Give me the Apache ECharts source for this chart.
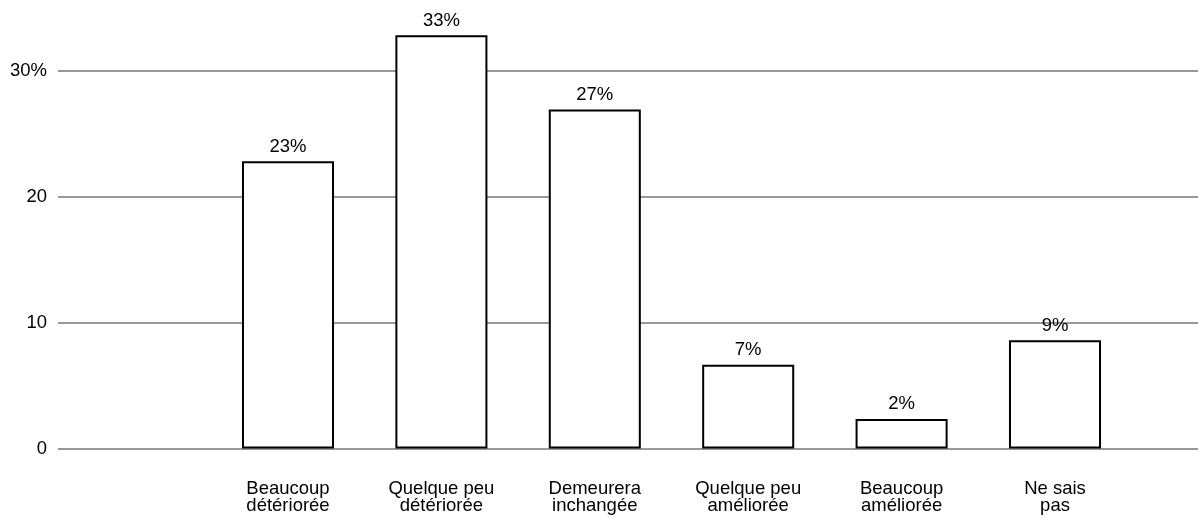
<!DOCTYPE html>
<html>
<head>
<meta charset="utf-8">
<script src="https://cdn.jsdelivr.net/npm/echarts@6/dist/echarts.min.js"></script>
<style>html,body{margin:0;padding:0;background:#fff}#c{width:1198px;height:518px}</style>
</head>
<body>
<div id="c"></div>
<script>
const categories = ['', 'Beaucoup\ndétériorée', 'Quelque peu\ndétériorée', 'Demeurera\ninchangée', 'Quelque peu\naméliorée', 'Beaucoup\naméliorée', 'Ne sais\npas'];
const values = [null, 22.8, 32.8, 26.9, 6.65, 2.35, 8.6];
const yTickValues = [0, 10, 20, 30];
const yTickLabels = ['0', '10', '20', '30%'];

const FONT = '"Liberation Sans", Arial, Helvetica, sans-serif';
const chart = echarts.init(document.getElementById('c'), null, {renderer: 'canvas'});
const yMin = 0, yMax = 35;
chart.setOption({
  animation: false,
  backgroundColor: '#fff',
  grid: [
    {left: 57.9, right: 66.3, top: 7.5, bottom: 69.5},
    {left: 58, right: 0, top: 7.5, bottom: 69.5}
  ],
  xAxis: [
    {
      type: 'category', gridIndex: 0, data: categories,
      axisLine: {show: false}, axisTick: {show: false},
      axisLabel: {color: '#000', fontFamily: FONT, fontSize: 18.5, lineHeight: 17, margin: 32, interval: 0}
    },
    {type: 'value', gridIndex: 1, show: false, min: 0, max: 1}
  ],
  yAxis: [
    {type: 'value', gridIndex: 0, min: yMin, max: yMax, interval: 10, show: false},
    {
      type: 'value', gridIndex: 1, min: yMin, max: yMax, interval: 10,
      axisLine: {show: false}, axisTick: {show: false},
      splitLine: {show: true, lineStyle: {color: ['#999', '#999', '#999', '#999', 'rgba(255,255,255,0)'], width: 2}},
      axisLabel: {
        color: '#000', fontFamily: FONT, fontSize: 18.5, margin: 11,
        formatter: v => { const i = yTickValues.indexOf(v); return i >= 0 ? yTickLabels[i] : ''; }
      }
    }
  ],
  series: [{
    type: 'bar', xAxisIndex: 0, yAxisIndex: 0,
    data: values, barWidth: '60%',
    itemStyle: {color: '#fff', borderColor: '#000', borderWidth: 2},
    label: {
      show: true, position: 'top', distance: 5, color: '#000',
      fontFamily: FONT, fontSize: 18.5,
      formatter: p => Math.round(p.value) + '%'
    }
  }]
});
</script>
</body>
</html>
